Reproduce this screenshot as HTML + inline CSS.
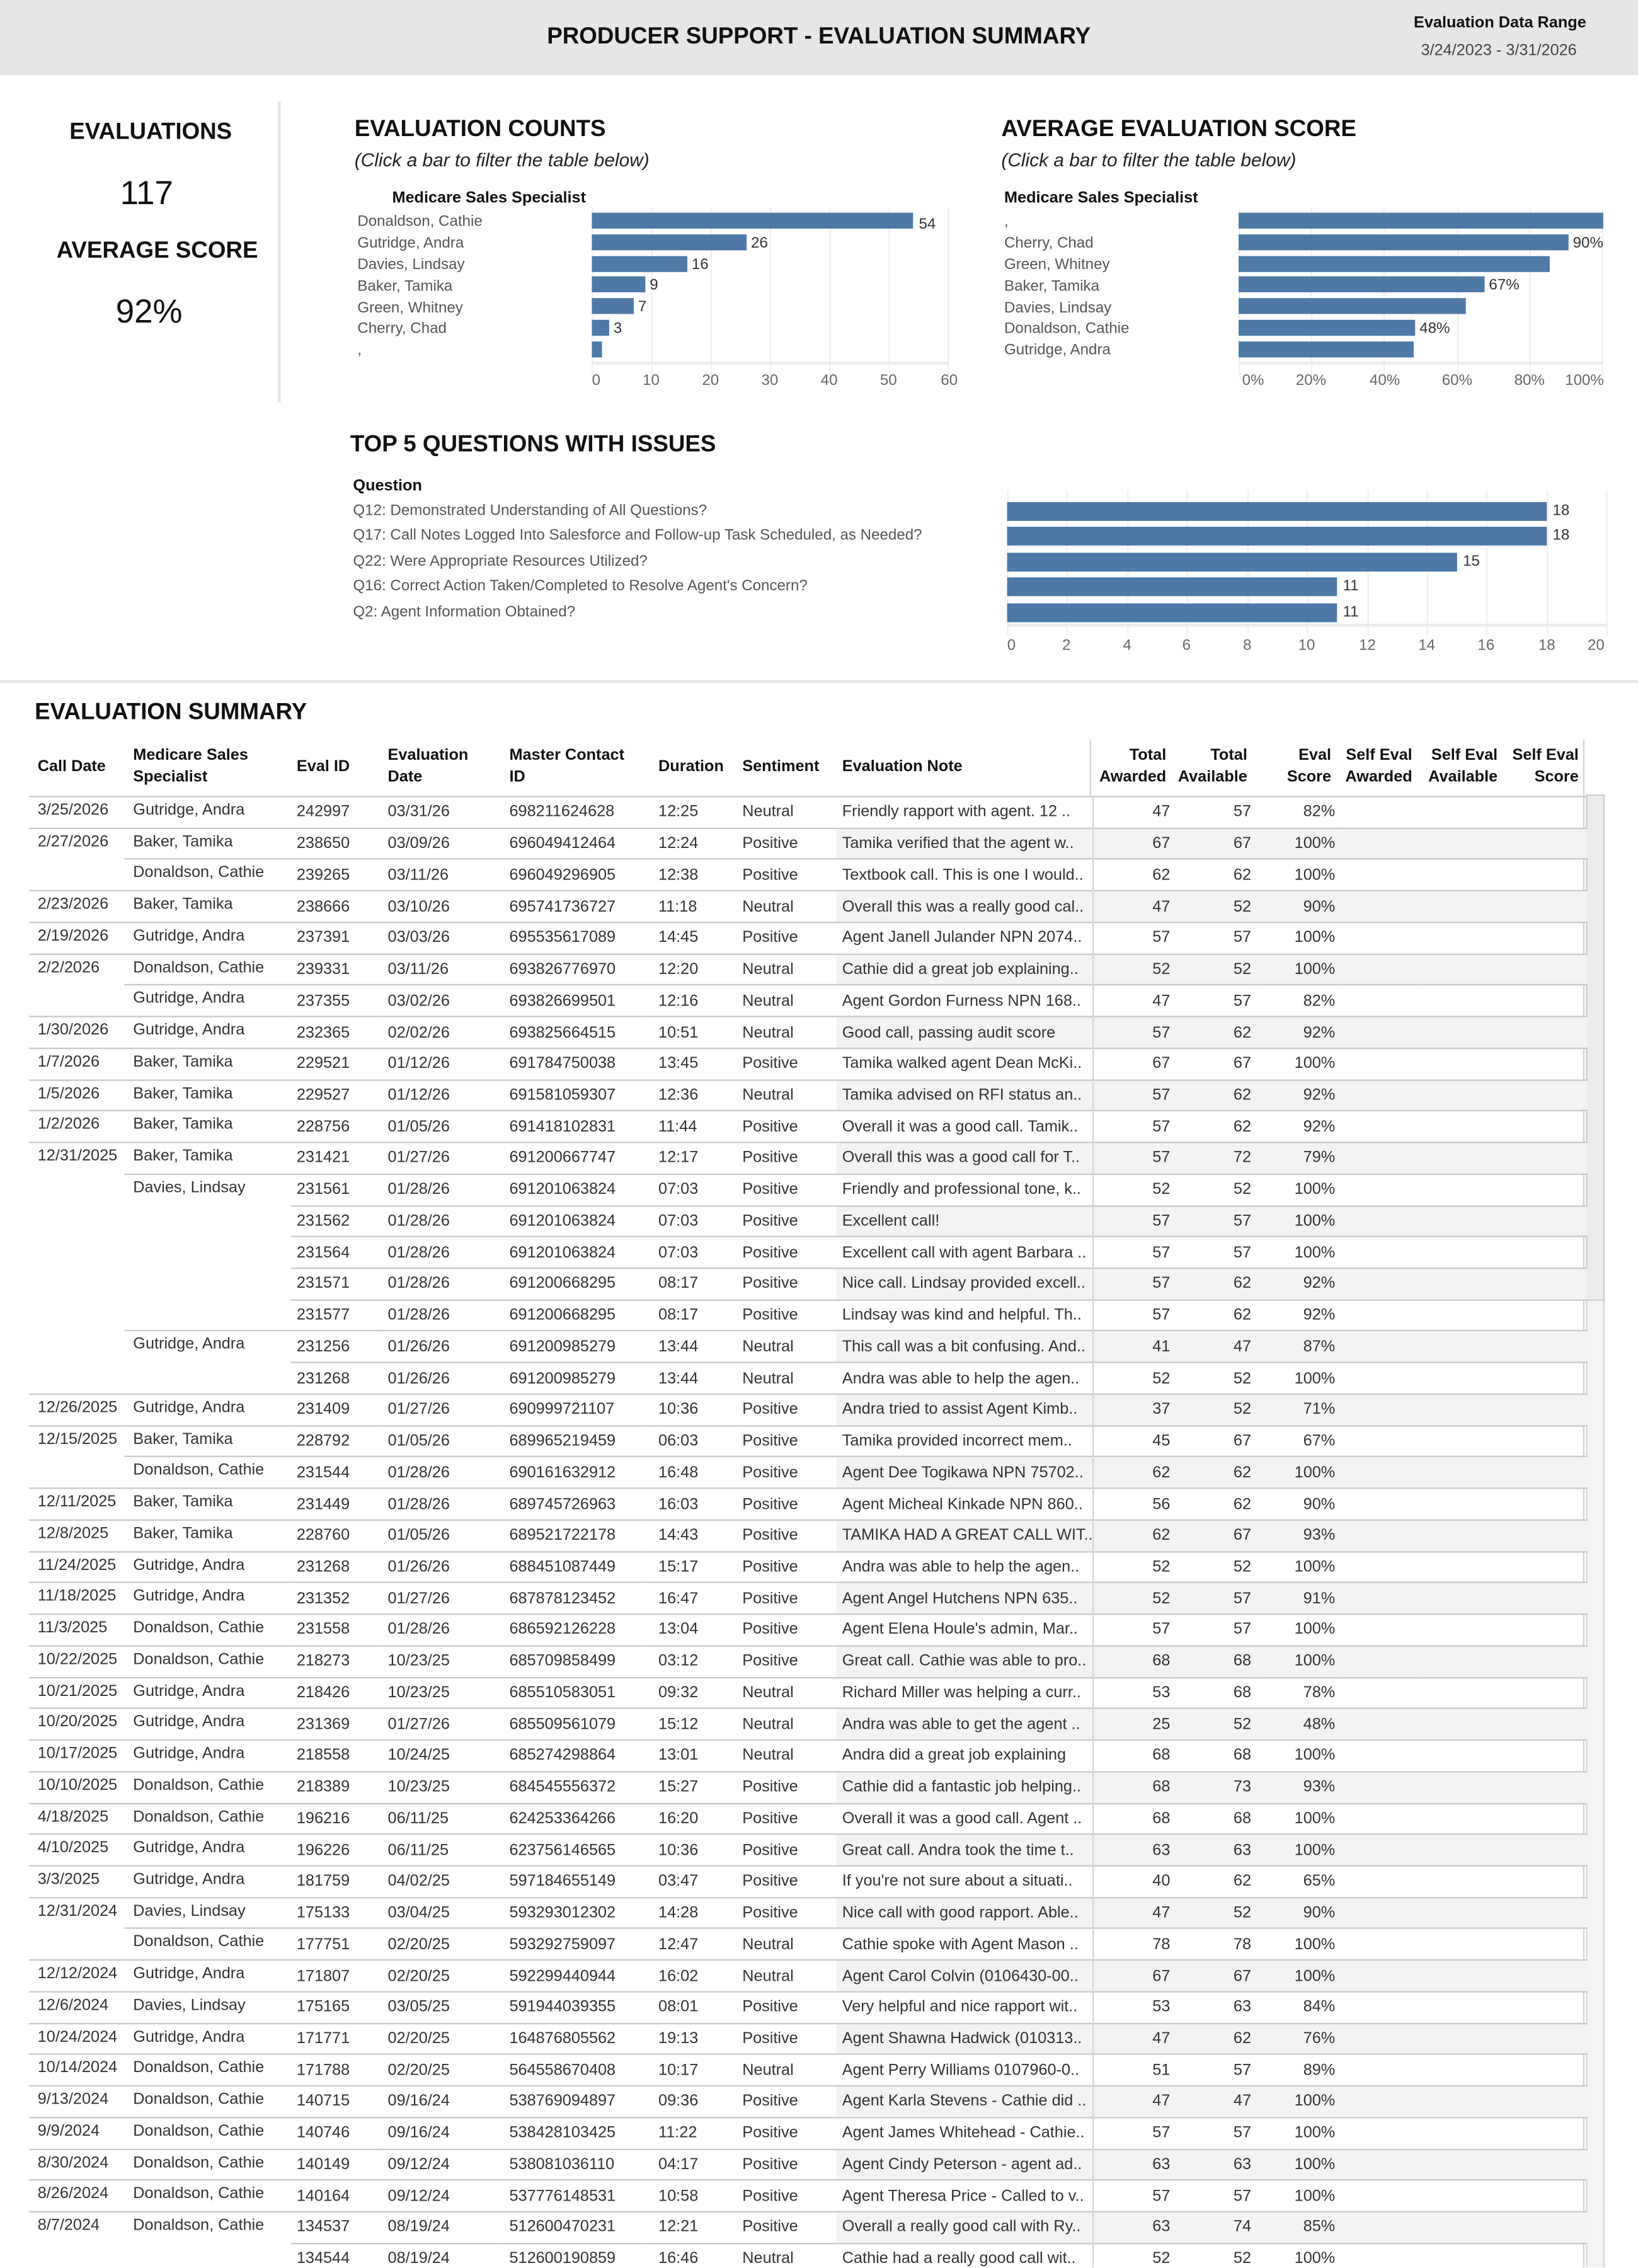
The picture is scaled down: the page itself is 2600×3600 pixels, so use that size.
<!DOCTYPE html>
<html><head><meta charset="utf-8">
<style>
html,body{margin:0;padding:0;background:#fff;}
body{width:2600px;height:3600px;overflow:hidden;position:relative;}
#s{position:absolute;left:0;top:0;width:1132px;height:1567px;transform:scale(2.29682);transform-origin:0 0;font-family:"Liberation Sans",sans-serif;color:#333;overflow:hidden;}
.a{position:absolute;white-space:nowrap;}
.h{font-weight:bold;color:#111;}
.bar{position:absolute;background:#4e79a7;}
.lbl{position:absolute;font-size:10.5px;color:#555;white-space:nowrap;}
.val{position:absolute;font-size:10.5px;color:#333;white-space:nowrap;}
.tk{position:absolute;font-size:10.5px;color:#666;transform:translateX(-50%);white-space:nowrap;}
.grid{position:absolute;width:1px;background:#f0f0f0;}
table{position:absolute;left:20px;top:511px;border-collapse:collapse;table-layout:fixed;font-size:11px;color:#333;}
td,th{padding:0;white-space:nowrap;overflow:hidden;}
th{font-weight:bold;color:#111;text-align:left;vertical-align:middle;height:38px;line-height:15px;font-size:11px;}
td{height:20.74px;border-top:1px solid #c8c8c8;vertical-align:middle;}
th.r,td.r{text-align:right;padding-right:3px;}
td.dv,th.dv{border-left:1px solid #d4d4d4;}
tr.g td.n,tr.g td.z{background:#f3f3f3;}
tr.r1 td.c1{border-top-color:transparent;}
tr.r2 td.c1,tr.r2 td.c2{border-top-color:transparent;}
td.c1,td.c2{vertical-align:top;padding-top:3px;height:17.74px;}
</style></head><body><div id="s">

<div class="a" style="left:0;top:0;width:1132px;height:52px;background:#e6e6e6;"></div>
<div class="a h" style="left:378px;top:17px;font-size:16px;">PRODUCER SUPPORT - EVALUATION SUMMARY</div>
<div class="a h" style="left:977px;top:10px;font-size:11px;">Evaluation Data Range</div>
<div class="a" style="left:982px;top:29px;font-size:11px;color:#444;">3/24/2023 - 3/31/2026</div>

<div class="a" style="left:192px;top:70px;width:2px;height:208px;background:#e6e6e6;"></div>
<div class="a h" style="left:48px;top:83px;font-size:16px;">EVALUATIONS</div>
<div class="a" style="left:83px;top:120px;font-size:23px;color:#111;">117</div>
<div class="a h" style="left:39px;top:165px;font-size:16px;">AVERAGE SCORE</div>
<div class="a" style="left:80px;top:202px;font-size:23px;color:#111;">92%</div>

<!-- Evaluation counts -->
<div class="a h" style="left:245px;top:81px;font-size:16px;">EVALUATION COUNTS</div>
<div class="a" style="left:245px;top:103px;font-size:13px;font-style:italic;color:#222;">(Click a bar to filter the table below)</div>
<div class="a h" style="left:271px;top:131px;font-size:11px;">Medicare Sales Specialist</div>
<div class="grid" style="left:409px;top:143px;height:118px;"></div>
<div class="grid" style="left:450px;top:143px;height:118px;"></div>
<div class="grid" style="left:491px;top:143px;height:118px;"></div>
<div class="grid" style="left:532px;top:143px;height:118px;"></div>
<div class="grid" style="left:573px;top:143px;height:118px;"></div>
<div class="grid" style="left:614px;top:143px;height:118px;"></div>
<div class="grid" style="left:655px;top:143px;height:118px;"></div>
<div class="a" style="left:409px;top:250px;width:247px;height:2px;background:#ececec;"></div>
<div class="lbl" style="left:247px;top:147px;">Donaldson, Cathie</div>
<div class="lbl" style="left:247px;top:162px;">Gutridge, Andra</div>
<div class="lbl" style="left:247px;top:177px;">Davies, Lindsay</div>
<div class="lbl" style="left:247px;top:192px;">Baker, Tamika</div>
<div class="lbl" style="left:247px;top:207px;">Green, Whitney</div>
<div class="lbl" style="left:247px;top:221px;">Cherry, Chad</div>
<div class="lbl" style="left:247px;top:236px;">,</div>
<div class="bar" style="left:409px;top:147px;width:222px;height:11px;"></div><div class="val" style="left:635px;top:149px;">54</div>
<div class="bar" style="left:409px;top:162px;width:107px;height:11px;"></div><div class="val" style="left:519px;top:162px;">26</div>
<div class="bar" style="left:409px;top:177px;width:66px;height:11px;"></div><div class="val" style="left:478px;top:177px;">16</div>
<div class="bar" style="left:409px;top:191px;width:37px;height:11px;"></div><div class="val" style="left:449px;top:191px;">9</div>
<div class="bar" style="left:409px;top:206px;width:29px;height:11px;"></div><div class="val" style="left:441px;top:206px;">7</div>
<div class="bar" style="left:409px;top:221px;width:12px;height:11px;"></div><div class="val" style="left:424px;top:221px;">3</div>
<div class="bar" style="left:409px;top:236px;width:7px;height:11px;"></div>
<div class="tk" style="left:412px;top:257px;">0</div><div class="tk" style="left:450px;top:257px;">10</div><div class="tk" style="left:491px;top:257px;">20</div><div class="tk" style="left:532px;top:257px;">30</div><div class="tk" style="left:573px;top:257px;">40</div><div class="tk" style="left:614px;top:257px;">50</div><div class="tk" style="left:656px;top:257px;">60</div>

<!-- Average score -->
<div class="a h" style="left:692px;top:81px;font-size:16px;">AVERAGE EVALUATION SCORE</div>
<div class="a" style="left:692px;top:103px;font-size:13px;font-style:italic;color:#222;">(Click a bar to filter the table below)</div>
<div class="a h" style="left:694px;top:131px;font-size:11px;">Medicare Sales Specialist</div>
<div class="grid" style="left:856px;top:143px;height:118px;"></div>
<div class="grid" style="left:906px;top:143px;height:118px;"></div>
<div class="grid" style="left:956px;top:143px;height:118px;"></div>
<div class="grid" style="left:1007px;top:143px;height:118px;"></div>
<div class="grid" style="left:1057px;top:143px;height:118px;"></div>
<div class="grid" style="left:1107px;top:143px;height:118px;"></div>
<div class="a" style="left:856px;top:250px;width:252px;height:2px;background:#ececec;"></div>
<div class="lbl" style="left:694px;top:147px;">,</div>
<div class="lbl" style="left:694px;top:162px;">Cherry, Chad</div>
<div class="lbl" style="left:694px;top:177px;">Green, Whitney</div>
<div class="lbl" style="left:694px;top:192px;">Baker, Tamika</div>
<div class="lbl" style="left:694px;top:207px;">Davies, Lindsay</div>
<div class="lbl" style="left:694px;top:221px;">Donaldson, Cathie</div>
<div class="lbl" style="left:694px;top:236px;">Gutridge, Andra</div>
<div class="bar" style="left:856px;top:147px;width:252px;height:11px;"></div>
<div class="bar" style="left:856px;top:162px;width:228px;height:11px;"></div><div class="val" style="left:1087px;top:162px;">90%</div>
<div class="bar" style="left:856px;top:177px;width:215px;height:11px;"></div>
<div class="bar" style="left:856px;top:191px;width:170px;height:11px;"></div><div class="val" style="left:1029px;top:191px;">67%</div>
<div class="bar" style="left:856px;top:206px;width:157px;height:11px;"></div>
<div class="bar" style="left:856px;top:221px;width:122px;height:11px;"></div><div class="val" style="left:981px;top:221px;">48%</div>
<div class="bar" style="left:856px;top:236px;width:121px;height:11px;"></div>
<div class="tk" style="left:866px;top:257px;">0%</div><div class="tk" style="left:906px;top:257px;">20%</div><div class="tk" style="left:957px;top:257px;">40%</div><div class="tk" style="left:1007px;top:257px;">60%</div><div class="tk" style="left:1057px;top:257px;">80%</div><div class="tk" style="left:1095px;top:257px;">100%</div>

<!-- Top 5 -->
<div class="a h" style="left:242px;top:299px;font-size:16px;">TOP 5 QUESTIONS WITH ISSUES</div>
<div class="a h" style="left:244px;top:330px;font-size:11px;">Question</div>
<div class="lbl" style="left:244px;top:347px;">Q12: Demonstrated Understanding of All Questions?</div>
<div class="lbl" style="left:244px;top:364px;">Q17: Call Notes Logged Into Salesforce and Follow-up Task Scheduled, as Needed?</div>
<div class="lbl" style="left:244px;top:382px;">Q22: Were Appropriate Resources Utilized?</div>
<div class="lbl" style="left:244px;top:399px;">Q16: Correct Action Taken/Completed to Resolve Agent's Concern?</div>
<div class="lbl" style="left:244px;top:417px;">Q2: Agent Information Obtained?</div>
<div class="grid" style="left:696px;top:339px;height:100px;"></div>
<div class="grid" style="left:737px;top:339px;height:100px;"></div>
<div class="grid" style="left:779px;top:339px;height:100px;"></div>
<div class="grid" style="left:820px;top:339px;height:100px;"></div>
<div class="grid" style="left:862px;top:339px;height:100px;"></div>
<div class="grid" style="left:903px;top:339px;height:100px;"></div>
<div class="grid" style="left:945px;top:339px;height:100px;"></div>
<div class="grid" style="left:986px;top:339px;height:100px;"></div>
<div class="grid" style="left:1027px;top:339px;height:100px;"></div>
<div class="grid" style="left:1069px;top:339px;height:100px;"></div>
<div class="grid" style="left:1110px;top:339px;height:100px;"></div>
<div class="a" style="left:696px;top:431px;width:414px;height:2px;background:#ececec;"></div>
<div class="bar" style="left:696px;top:347px;width:373px;height:13px;"></div><div class="val" style="left:1073px;top:347px;">18</div>
<div class="bar" style="left:696px;top:364px;width:373px;height:13px;"></div><div class="val" style="left:1073px;top:364px;">18</div>
<div class="bar" style="left:696px;top:382px;width:311px;height:13px;"></div><div class="val" style="left:1011px;top:382px;">15</div>
<div class="bar" style="left:696px;top:399px;width:228px;height:13px;"></div><div class="val" style="left:928px;top:399px;">11</div>
<div class="bar" style="left:696px;top:417px;width:228px;height:13px;"></div><div class="val" style="left:928px;top:417px;">11</div>
<div class="tk" style="left:699px;top:440px;">0</div><div class="tk" style="left:737px;top:440px;">2</div><div class="tk" style="left:779px;top:440px;">4</div><div class="tk" style="left:820px;top:440px;">6</div><div class="tk" style="left:862px;top:440px;">8</div><div class="tk" style="left:903px;top:440px;">10</div><div class="tk" style="left:945px;top:440px;">12</div><div class="tk" style="left:986px;top:440px;">14</div><div class="tk" style="left:1027px;top:440px;">16</div><div class="tk" style="left:1069px;top:440px;">18</div><div class="tk" style="left:1103px;top:440px;">20</div>

<div class="a" style="left:0;top:470px;width:1132px;height:2px;background:#e6e6e6;"></div>

<div class="a h" style="left:24px;top:484px;font-size:16px;">EVALUATION SUMMARY</div>

<div class="a" style="left:753px;top:511px;width:1px;height:40px;background:#d4d4d4;"></div>
<div class="a" style="left:1094px;top:511px;width:1px;height:1060px;background:#d4d4d4;"></div>
<div class="a" style="left:1096px;top:549px;width:13px;height:1020px;background:#f4f4f4;border:1px solid #d8d8d8;box-sizing:border-box;"></div>
<div class="a" style="left:1096px;top:549px;width:13px;height:350px;background:#ececec;border:1px solid #cfcfcf;box-sizing:border-box;"></div>

<table>
<colgroup><col style="width:66px"><col style="width:115px"><col style="width:63px"><col style="width:84px"><col style="width:96px"><col style="width:11px"><col style="width:54px"><col style="width:69px"><col style="width:175px"><col style="width:56px"><col style="width:56px"><col style="width:58px"><col style="width:56px"><col style="width:59px"><col style="width:56px"></colgroup>
<tr><th style="padding-left:6px">Call Date</th><th style="padding-left:6px">Medicare Sales<br>Specialist</th><th style="padding-left:4px">Eval ID</th><th style="padding-left:4px">Evaluation<br>Date</th><th style="padding-left:4px">Master Contact<br>ID</th><th></th><th>Duration</th><th style="padding-left:4px">Sentiment</th><th style="padding-left:4px">Evaluation Note</th><th class="r dv">Total<br>Awarded</th><th class="r">Total<br>Available</th><th class="r">Eval<br>Score</th><th class="r">Self Eval<br>Awarded</th><th class="r">Self Eval<br>Available</th><th class="r">Self Eval<br>Score</th></tr>
</table>
<table style="top:550px;">
<colgroup><col style="width:66px"><col style="width:115px"><col style="width:63px"><col style="width:84px"><col style="width:96px"><col style="width:11px"><col style="width:54px"><col style="width:69px"><col style="width:175px"><col style="width:56px"><col style="width:56px"><col style="width:58px"><col style="width:56px"><col style="width:59px"><col style="width:56px"></colgroup>
<tbody id="tb">
<tr><td class="c1" style="padding-left:6px">3/25/2026</td><td class="c2" style="padding-left:6px">Gutridge, Andra</td><td style="padding-left:4px">242997</td><td style="padding-left:4px">03/31/26</td><td style="padding-left:4px">698211624628</td><td></td><td>12:25</td><td style="padding-left:4px">Neutral</td><td class="n" style="padding-left:4px">Friendly rapport with agent. 12 ..</td><td class="r dv z">47</td><td class="r z">57</td><td class="r z">82%</td><td class="z"></td><td class="z"></td><td class="z"></td></tr>
<tr class="g"><td class="c1" style="padding-left:6px">2/27/2026</td><td class="c2" style="padding-left:6px">Baker, Tamika</td><td style="padding-left:4px">238650</td><td style="padding-left:4px">03/09/26</td><td style="padding-left:4px">696049412464</td><td></td><td>12:24</td><td style="padding-left:4px">Positive</td><td class="n" style="padding-left:4px">Tamika verified that the agent w..</td><td class="r dv z">67</td><td class="r z">67</td><td class="r z">100%</td><td class="z"></td><td class="z"></td><td class="z"></td></tr>
<tr class="r1"><td class="c1"></td><td class="c2" style="padding-left:6px">Donaldson, Cathie</td><td style="padding-left:4px">239265</td><td style="padding-left:4px">03/11/26</td><td style="padding-left:4px">696049296905</td><td></td><td>12:38</td><td style="padding-left:4px">Positive</td><td class="n" style="padding-left:4px">Textbook call. This is one I would..</td><td class="r dv z">62</td><td class="r z">62</td><td class="r z">100%</td><td class="z"></td><td class="z"></td><td class="z"></td></tr>
<tr class="g"><td class="c1" style="padding-left:6px">2/23/2026</td><td class="c2" style="padding-left:6px">Baker, Tamika</td><td style="padding-left:4px">238666</td><td style="padding-left:4px">03/10/26</td><td style="padding-left:4px">695741736727</td><td></td><td>11:18</td><td style="padding-left:4px">Neutral</td><td class="n" style="padding-left:4px">Overall this was a really good cal..</td><td class="r dv z">47</td><td class="r z">52</td><td class="r z">90%</td><td class="z"></td><td class="z"></td><td class="z"></td></tr>
<tr><td class="c1" style="padding-left:6px">2/19/2026</td><td class="c2" style="padding-left:6px">Gutridge, Andra</td><td style="padding-left:4px">237391</td><td style="padding-left:4px">03/03/26</td><td style="padding-left:4px">695535617089</td><td></td><td>14:45</td><td style="padding-left:4px">Positive</td><td class="n" style="padding-left:4px">Agent Janell Julander NPN 2074..</td><td class="r dv z">57</td><td class="r z">57</td><td class="r z">100%</td><td class="z"></td><td class="z"></td><td class="z"></td></tr>
<tr class="g"><td class="c1" style="padding-left:6px">2/2/2026</td><td class="c2" style="padding-left:6px">Donaldson, Cathie</td><td style="padding-left:4px">239331</td><td style="padding-left:4px">03/11/26</td><td style="padding-left:4px">693826776970</td><td></td><td>12:20</td><td style="padding-left:4px">Neutral</td><td class="n" style="padding-left:4px">Cathie did a great job explaining..</td><td class="r dv z">52</td><td class="r z">52</td><td class="r z">100%</td><td class="z"></td><td class="z"></td><td class="z"></td></tr>
<tr class="r1"><td class="c1"></td><td class="c2" style="padding-left:6px">Gutridge, Andra</td><td style="padding-left:4px">237355</td><td style="padding-left:4px">03/02/26</td><td style="padding-left:4px">693826699501</td><td></td><td>12:16</td><td style="padding-left:4px">Neutral</td><td class="n" style="padding-left:4px">Agent Gordon Furness NPN 168..</td><td class="r dv z">47</td><td class="r z">57</td><td class="r z">82%</td><td class="z"></td><td class="z"></td><td class="z"></td></tr>
<tr class="g"><td class="c1" style="padding-left:6px">1/30/2026</td><td class="c2" style="padding-left:6px">Gutridge, Andra</td><td style="padding-left:4px">232365</td><td style="padding-left:4px">02/02/26</td><td style="padding-left:4px">693825664515</td><td></td><td>10:51</td><td style="padding-left:4px">Neutral</td><td class="n" style="padding-left:4px">Good call, passing audit score</td><td class="r dv z">57</td><td class="r z">62</td><td class="r z">92%</td><td class="z"></td><td class="z"></td><td class="z"></td></tr>
<tr><td class="c1" style="padding-left:6px">1/7/2026</td><td class="c2" style="padding-left:6px">Baker, Tamika</td><td style="padding-left:4px">229521</td><td style="padding-left:4px">01/12/26</td><td style="padding-left:4px">691784750038</td><td></td><td>13:45</td><td style="padding-left:4px">Positive</td><td class="n" style="padding-left:4px">Tamika walked agent Dean McKi..</td><td class="r dv z">67</td><td class="r z">67</td><td class="r z">100%</td><td class="z"></td><td class="z"></td><td class="z"></td></tr>
<tr class="g"><td class="c1" style="padding-left:6px">1/5/2026</td><td class="c2" style="padding-left:6px">Baker, Tamika</td><td style="padding-left:4px">229527</td><td style="padding-left:4px">01/12/26</td><td style="padding-left:4px">691581059307</td><td></td><td>12:36</td><td style="padding-left:4px">Neutral</td><td class="n" style="padding-left:4px">Tamika advised on RFI status an..</td><td class="r dv z">57</td><td class="r z">62</td><td class="r z">92%</td><td class="z"></td><td class="z"></td><td class="z"></td></tr>
<tr><td class="c1" style="padding-left:6px">1/2/2026</td><td class="c2" style="padding-left:6px">Baker, Tamika</td><td style="padding-left:4px">228756</td><td style="padding-left:4px">01/05/26</td><td style="padding-left:4px">691418102831</td><td></td><td>11:44</td><td style="padding-left:4px">Positive</td><td class="n" style="padding-left:4px">Overall it was a good call. Tamik..</td><td class="r dv z">57</td><td class="r z">62</td><td class="r z">92%</td><td class="z"></td><td class="z"></td><td class="z"></td></tr>
<tr class="g"><td class="c1" style="padding-left:6px">12/31/2025</td><td class="c2" style="padding-left:6px">Baker, Tamika</td><td style="padding-left:4px">231421</td><td style="padding-left:4px">01/27/26</td><td style="padding-left:4px">691200667747</td><td></td><td>12:17</td><td style="padding-left:4px">Positive</td><td class="n" style="padding-left:4px">Overall this was a good call for T..</td><td class="r dv z">57</td><td class="r z">72</td><td class="r z">79%</td><td class="z"></td><td class="z"></td><td class="z"></td></tr>
<tr class="r1"><td class="c1"></td><td class="c2" style="padding-left:6px">Davies, Lindsay</td><td style="padding-left:4px">231561</td><td style="padding-left:4px">01/28/26</td><td style="padding-left:4px">691201063824</td><td></td><td>07:03</td><td style="padding-left:4px">Positive</td><td class="n" style="padding-left:4px">Friendly and professional tone, k..</td><td class="r dv z">52</td><td class="r z">52</td><td class="r z">100%</td><td class="z"></td><td class="z"></td><td class="z"></td></tr>
<tr class="g r2"><td class="c1"></td><td class="c2"></td><td style="padding-left:4px">231562</td><td style="padding-left:4px">01/28/26</td><td style="padding-left:4px">691201063824</td><td></td><td>07:03</td><td style="padding-left:4px">Positive</td><td class="n" style="padding-left:4px">Excellent call!</td><td class="r dv z">57</td><td class="r z">57</td><td class="r z">100%</td><td class="z"></td><td class="z"></td><td class="z"></td></tr>
<tr class="r2"><td class="c1"></td><td class="c2"></td><td style="padding-left:4px">231564</td><td style="padding-left:4px">01/28/26</td><td style="padding-left:4px">691201063824</td><td></td><td>07:03</td><td style="padding-left:4px">Positive</td><td class="n" style="padding-left:4px">Excellent call with agent Barbara ..</td><td class="r dv z">57</td><td class="r z">57</td><td class="r z">100%</td><td class="z"></td><td class="z"></td><td class="z"></td></tr>
<tr class="g r2"><td class="c1"></td><td class="c2"></td><td style="padding-left:4px">231571</td><td style="padding-left:4px">01/28/26</td><td style="padding-left:4px">691200668295</td><td></td><td>08:17</td><td style="padding-left:4px">Positive</td><td class="n" style="padding-left:4px">Nice call. Lindsay provided excell..</td><td class="r dv z">57</td><td class="r z">62</td><td class="r z">92%</td><td class="z"></td><td class="z"></td><td class="z"></td></tr>
<tr class="r2"><td class="c1"></td><td class="c2"></td><td style="padding-left:4px">231577</td><td style="padding-left:4px">01/28/26</td><td style="padding-left:4px">691200668295</td><td></td><td>08:17</td><td style="padding-left:4px">Positive</td><td class="n" style="padding-left:4px">Lindsay was kind and helpful. Th..</td><td class="r dv z">57</td><td class="r z">62</td><td class="r z">92%</td><td class="z"></td><td class="z"></td><td class="z"></td></tr>
<tr class="g r1"><td class="c1"></td><td class="c2" style="padding-left:6px">Gutridge, Andra</td><td style="padding-left:4px">231256</td><td style="padding-left:4px">01/26/26</td><td style="padding-left:4px">691200985279</td><td></td><td>13:44</td><td style="padding-left:4px">Neutral</td><td class="n" style="padding-left:4px">This call was a bit confusing. And..</td><td class="r dv z">41</td><td class="r z">47</td><td class="r z">87%</td><td class="z"></td><td class="z"></td><td class="z"></td></tr>
<tr class="r2"><td class="c1"></td><td class="c2"></td><td style="padding-left:4px">231268</td><td style="padding-left:4px">01/26/26</td><td style="padding-left:4px">691200985279</td><td></td><td>13:44</td><td style="padding-left:4px">Neutral</td><td class="n" style="padding-left:4px">Andra was able to help the agen..</td><td class="r dv z">52</td><td class="r z">52</td><td class="r z">100%</td><td class="z"></td><td class="z"></td><td class="z"></td></tr>
<tr class="g"><td class="c1" style="padding-left:6px">12/26/2025</td><td class="c2" style="padding-left:6px">Gutridge, Andra</td><td style="padding-left:4px">231409</td><td style="padding-left:4px">01/27/26</td><td style="padding-left:4px">690999721107</td><td></td><td>10:36</td><td style="padding-left:4px">Positive</td><td class="n" style="padding-left:4px">Andra tried to assist Agent Kimb..</td><td class="r dv z">37</td><td class="r z">52</td><td class="r z">71%</td><td class="z"></td><td class="z"></td><td class="z"></td></tr>
<tr><td class="c1" style="padding-left:6px">12/15/2025</td><td class="c2" style="padding-left:6px">Baker, Tamika</td><td style="padding-left:4px">228792</td><td style="padding-left:4px">01/05/26</td><td style="padding-left:4px">689965219459</td><td></td><td>06:03</td><td style="padding-left:4px">Positive</td><td class="n" style="padding-left:4px">Tamika provided incorrect mem..</td><td class="r dv z">45</td><td class="r z">67</td><td class="r z">67%</td><td class="z"></td><td class="z"></td><td class="z"></td></tr>
<tr class="g r1"><td class="c1"></td><td class="c2" style="padding-left:6px">Donaldson, Cathie</td><td style="padding-left:4px">231544</td><td style="padding-left:4px">01/28/26</td><td style="padding-left:4px">690161632912</td><td></td><td>16:48</td><td style="padding-left:4px">Positive</td><td class="n" style="padding-left:4px">Agent Dee Togikawa NPN 75702..</td><td class="r dv z">62</td><td class="r z">62</td><td class="r z">100%</td><td class="z"></td><td class="z"></td><td class="z"></td></tr>
<tr><td class="c1" style="padding-left:6px">12/11/2025</td><td class="c2" style="padding-left:6px">Baker, Tamika</td><td style="padding-left:4px">231449</td><td style="padding-left:4px">01/28/26</td><td style="padding-left:4px">689745726963</td><td></td><td>16:03</td><td style="padding-left:4px">Positive</td><td class="n" style="padding-left:4px">Agent Micheal Kinkade NPN 860..</td><td class="r dv z">56</td><td class="r z">62</td><td class="r z">90%</td><td class="z"></td><td class="z"></td><td class="z"></td></tr>
<tr class="g"><td class="c1" style="padding-left:6px">12/8/2025</td><td class="c2" style="padding-left:6px">Baker, Tamika</td><td style="padding-left:4px">228760</td><td style="padding-left:4px">01/05/26</td><td style="padding-left:4px">689521722178</td><td></td><td>14:43</td><td style="padding-left:4px">Positive</td><td class="n" style="padding-left:4px">TAMIKA HAD A GREAT CALL WIT..</td><td class="r dv z">62</td><td class="r z">67</td><td class="r z">93%</td><td class="z"></td><td class="z"></td><td class="z"></td></tr>
<tr><td class="c1" style="padding-left:6px">11/24/2025</td><td class="c2" style="padding-left:6px">Gutridge, Andra</td><td style="padding-left:4px">231268</td><td style="padding-left:4px">01/26/26</td><td style="padding-left:4px">688451087449</td><td></td><td>15:17</td><td style="padding-left:4px">Positive</td><td class="n" style="padding-left:4px">Andra was able to help the agen..</td><td class="r dv z">52</td><td class="r z">52</td><td class="r z">100%</td><td class="z"></td><td class="z"></td><td class="z"></td></tr>
<tr class="g"><td class="c1" style="padding-left:6px">11/18/2025</td><td class="c2" style="padding-left:6px">Gutridge, Andra</td><td style="padding-left:4px">231352</td><td style="padding-left:4px">01/27/26</td><td style="padding-left:4px">687878123452</td><td></td><td>16:47</td><td style="padding-left:4px">Positive</td><td class="n" style="padding-left:4px">Agent Angel Hutchens NPN 635..</td><td class="r dv z">52</td><td class="r z">57</td><td class="r z">91%</td><td class="z"></td><td class="z"></td><td class="z"></td></tr>
<tr><td class="c1" style="padding-left:6px">11/3/2025</td><td class="c2" style="padding-left:6px">Donaldson, Cathie</td><td style="padding-left:4px">231558</td><td style="padding-left:4px">01/28/26</td><td style="padding-left:4px">686592126228</td><td></td><td>13:04</td><td style="padding-left:4px">Positive</td><td class="n" style="padding-left:4px">Agent Elena Houle's admin, Mar..</td><td class="r dv z">57</td><td class="r z">57</td><td class="r z">100%</td><td class="z"></td><td class="z"></td><td class="z"></td></tr>
<tr class="g"><td class="c1" style="padding-left:6px">10/22/2025</td><td class="c2" style="padding-left:6px">Donaldson, Cathie</td><td style="padding-left:4px">218273</td><td style="padding-left:4px">10/23/25</td><td style="padding-left:4px">685709858499</td><td></td><td>03:12</td><td style="padding-left:4px">Positive</td><td class="n" style="padding-left:4px">Great call. Cathie was able to pro..</td><td class="r dv z">68</td><td class="r z">68</td><td class="r z">100%</td><td class="z"></td><td class="z"></td><td class="z"></td></tr>
<tr><td class="c1" style="padding-left:6px">10/21/2025</td><td class="c2" style="padding-left:6px">Gutridge, Andra</td><td style="padding-left:4px">218426</td><td style="padding-left:4px">10/23/25</td><td style="padding-left:4px">685510583051</td><td></td><td>09:32</td><td style="padding-left:4px">Neutral</td><td class="n" style="padding-left:4px">Richard Miller was helping a curr..</td><td class="r dv z">53</td><td class="r z">68</td><td class="r z">78%</td><td class="z"></td><td class="z"></td><td class="z"></td></tr>
<tr class="g"><td class="c1" style="padding-left:6px">10/20/2025</td><td class="c2" style="padding-left:6px">Gutridge, Andra</td><td style="padding-left:4px">231369</td><td style="padding-left:4px">01/27/26</td><td style="padding-left:4px">685509561079</td><td></td><td>15:12</td><td style="padding-left:4px">Neutral</td><td class="n" style="padding-left:4px">Andra was able to get the agent ..</td><td class="r dv z">25</td><td class="r z">52</td><td class="r z">48%</td><td class="z"></td><td class="z"></td><td class="z"></td></tr>
<tr><td class="c1" style="padding-left:6px">10/17/2025</td><td class="c2" style="padding-left:6px">Gutridge, Andra</td><td style="padding-left:4px">218558</td><td style="padding-left:4px">10/24/25</td><td style="padding-left:4px">685274298864</td><td></td><td>13:01</td><td style="padding-left:4px">Neutral</td><td class="n" style="padding-left:4px">Andra did a great job explaining</td><td class="r dv z">68</td><td class="r z">68</td><td class="r z">100%</td><td class="z"></td><td class="z"></td><td class="z"></td></tr>
<tr class="g"><td class="c1" style="padding-left:6px">10/10/2025</td><td class="c2" style="padding-left:6px">Donaldson, Cathie</td><td style="padding-left:4px">218389</td><td style="padding-left:4px">10/23/25</td><td style="padding-left:4px">684545556372</td><td></td><td>15:27</td><td style="padding-left:4px">Positive</td><td class="n" style="padding-left:4px">Cathie did a fantastic job helping..</td><td class="r dv z">68</td><td class="r z">73</td><td class="r z">93%</td><td class="z"></td><td class="z"></td><td class="z"></td></tr>
<tr><td class="c1" style="padding-left:6px">4/18/2025</td><td class="c2" style="padding-left:6px">Donaldson, Cathie</td><td style="padding-left:4px">196216</td><td style="padding-left:4px">06/11/25</td><td style="padding-left:4px">624253364266</td><td></td><td>16:20</td><td style="padding-left:4px">Positive</td><td class="n" style="padding-left:4px">Overall it was a good call. Agent ..</td><td class="r dv z">68</td><td class="r z">68</td><td class="r z">100%</td><td class="z"></td><td class="z"></td><td class="z"></td></tr>
<tr class="g"><td class="c1" style="padding-left:6px">4/10/2025</td><td class="c2" style="padding-left:6px">Gutridge, Andra</td><td style="padding-left:4px">196226</td><td style="padding-left:4px">06/11/25</td><td style="padding-left:4px">623756146565</td><td></td><td>10:36</td><td style="padding-left:4px">Positive</td><td class="n" style="padding-left:4px">Great call. Andra took the time t..</td><td class="r dv z">63</td><td class="r z">63</td><td class="r z">100%</td><td class="z"></td><td class="z"></td><td class="z"></td></tr>
<tr><td class="c1" style="padding-left:6px">3/3/2025</td><td class="c2" style="padding-left:6px">Gutridge, Andra</td><td style="padding-left:4px">181759</td><td style="padding-left:4px">04/02/25</td><td style="padding-left:4px">597184655149</td><td></td><td>03:47</td><td style="padding-left:4px">Positive</td><td class="n" style="padding-left:4px">If you're not sure about a situati..</td><td class="r dv z">40</td><td class="r z">62</td><td class="r z">65%</td><td class="z"></td><td class="z"></td><td class="z"></td></tr>
<tr class="g"><td class="c1" style="padding-left:6px">12/31/2024</td><td class="c2" style="padding-left:6px">Davies, Lindsay</td><td style="padding-left:4px">175133</td><td style="padding-left:4px">03/04/25</td><td style="padding-left:4px">593293012302</td><td></td><td>14:28</td><td style="padding-left:4px">Positive</td><td class="n" style="padding-left:4px">Nice call with good rapport. Able..</td><td class="r dv z">47</td><td class="r z">52</td><td class="r z">90%</td><td class="z"></td><td class="z"></td><td class="z"></td></tr>
<tr class="r1"><td class="c1"></td><td class="c2" style="padding-left:6px">Donaldson, Cathie</td><td style="padding-left:4px">177751</td><td style="padding-left:4px">02/20/25</td><td style="padding-left:4px">593292759097</td><td></td><td>12:47</td><td style="padding-left:4px">Neutral</td><td class="n" style="padding-left:4px">Cathie spoke with Agent Mason ..</td><td class="r dv z">78</td><td class="r z">78</td><td class="r z">100%</td><td class="z"></td><td class="z"></td><td class="z"></td></tr>
<tr class="g"><td class="c1" style="padding-left:6px">12/12/2024</td><td class="c2" style="padding-left:6px">Gutridge, Andra</td><td style="padding-left:4px">171807</td><td style="padding-left:4px">02/20/25</td><td style="padding-left:4px">592299440944</td><td></td><td>16:02</td><td style="padding-left:4px">Neutral</td><td class="n" style="padding-left:4px">Agent Carol Colvin (0106430-00..</td><td class="r dv z">67</td><td class="r z">67</td><td class="r z">100%</td><td class="z"></td><td class="z"></td><td class="z"></td></tr>
<tr><td class="c1" style="padding-left:6px">12/6/2024</td><td class="c2" style="padding-left:6px">Davies, Lindsay</td><td style="padding-left:4px">175165</td><td style="padding-left:4px">03/05/25</td><td style="padding-left:4px">591944039355</td><td></td><td>08:01</td><td style="padding-left:4px">Positive</td><td class="n" style="padding-left:4px">Very helpful and nice rapport wit..</td><td class="r dv z">53</td><td class="r z">63</td><td class="r z">84%</td><td class="z"></td><td class="z"></td><td class="z"></td></tr>
<tr class="g"><td class="c1" style="padding-left:6px">10/24/2024</td><td class="c2" style="padding-left:6px">Gutridge, Andra</td><td style="padding-left:4px">171771</td><td style="padding-left:4px">02/20/25</td><td style="padding-left:4px">164876805562</td><td></td><td>19:13</td><td style="padding-left:4px">Positive</td><td class="n" style="padding-left:4px">Agent Shawna Hadwick (010313..</td><td class="r dv z">47</td><td class="r z">62</td><td class="r z">76%</td><td class="z"></td><td class="z"></td><td class="z"></td></tr>
<tr><td class="c1" style="padding-left:6px">10/14/2024</td><td class="c2" style="padding-left:6px">Donaldson, Cathie</td><td style="padding-left:4px">171788</td><td style="padding-left:4px">02/20/25</td><td style="padding-left:4px">564558670408</td><td></td><td>10:17</td><td style="padding-left:4px">Neutral</td><td class="n" style="padding-left:4px">Agent Perry Williams 0107960-0..</td><td class="r dv z">51</td><td class="r z">57</td><td class="r z">89%</td><td class="z"></td><td class="z"></td><td class="z"></td></tr>
<tr class="g"><td class="c1" style="padding-left:6px">9/13/2024</td><td class="c2" style="padding-left:6px">Donaldson, Cathie</td><td style="padding-left:4px">140715</td><td style="padding-left:4px">09/16/24</td><td style="padding-left:4px">538769094897</td><td></td><td>09:36</td><td style="padding-left:4px">Positive</td><td class="n" style="padding-left:4px">Agent Karla Stevens - Cathie did ..</td><td class="r dv z">47</td><td class="r z">47</td><td class="r z">100%</td><td class="z"></td><td class="z"></td><td class="z"></td></tr>
<tr><td class="c1" style="padding-left:6px">9/9/2024</td><td class="c2" style="padding-left:6px">Donaldson, Cathie</td><td style="padding-left:4px">140746</td><td style="padding-left:4px">09/16/24</td><td style="padding-left:4px">538428103425</td><td></td><td>11:22</td><td style="padding-left:4px">Positive</td><td class="n" style="padding-left:4px">Agent James Whitehead - Cathie..</td><td class="r dv z">57</td><td class="r z">57</td><td class="r z">100%</td><td class="z"></td><td class="z"></td><td class="z"></td></tr>
<tr class="g"><td class="c1" style="padding-left:6px">8/30/2024</td><td class="c2" style="padding-left:6px">Donaldson, Cathie</td><td style="padding-left:4px">140149</td><td style="padding-left:4px">09/12/24</td><td style="padding-left:4px">538081036110</td><td></td><td>04:17</td><td style="padding-left:4px">Positive</td><td class="n" style="padding-left:4px">Agent Cindy Peterson - agent ad..</td><td class="r dv z">63</td><td class="r z">63</td><td class="r z">100%</td><td class="z"></td><td class="z"></td><td class="z"></td></tr>
<tr><td class="c1" style="padding-left:6px">8/26/2024</td><td class="c2" style="padding-left:6px">Donaldson, Cathie</td><td style="padding-left:4px">140164</td><td style="padding-left:4px">09/12/24</td><td style="padding-left:4px">537776148531</td><td></td><td>10:58</td><td style="padding-left:4px">Positive</td><td class="n" style="padding-left:4px">Agent Theresa Price - Called to v..</td><td class="r dv z">57</td><td class="r z">57</td><td class="r z">100%</td><td class="z"></td><td class="z"></td><td class="z"></td></tr>
<tr class="g"><td class="c1" style="padding-left:6px">8/7/2024</td><td class="c2" style="padding-left:6px">Donaldson, Cathie</td><td style="padding-left:4px">134537</td><td style="padding-left:4px">08/19/24</td><td style="padding-left:4px">512600470231</td><td></td><td>12:21</td><td style="padding-left:4px">Positive</td><td class="n" style="padding-left:4px">Overall a really good call with Ry..</td><td class="r dv z">63</td><td class="r z">74</td><td class="r z">85%</td><td class="z"></td><td class="z"></td><td class="z"></td></tr>
<tr class="r2"><td class="c1"></td><td class="c2"></td><td style="padding-left:4px">134544</td><td style="padding-left:4px">08/19/24</td><td style="padding-left:4px">512600190859</td><td></td><td>16:46</td><td style="padding-left:4px">Neutral</td><td class="n" style="padding-left:4px">Cathie had a really good call wit..</td><td class="r dv z">52</td><td class="r z">52</td><td class="r z">100%</td><td class="z"></td><td class="z"></td><td class="z"></td></tr>
</tbody></table>
</div></body></html>
